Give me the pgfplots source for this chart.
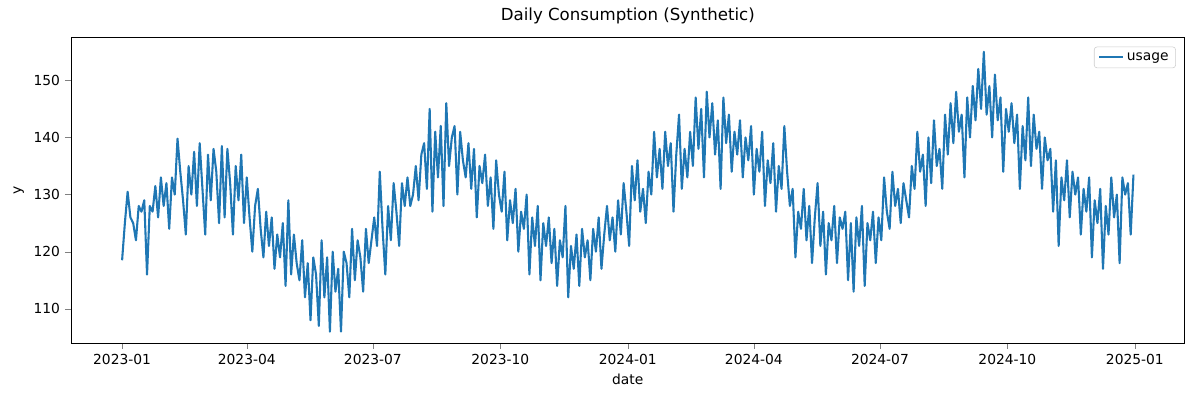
\documentclass[border=0pt]{standalone}
\usepackage{pgfplots}
\pgfplotsset{compat=1.18}
\usepackage{fontspec}
\setmainfont{DejaVu Sans}
\begin{document}
\begin{tikzpicture}
\begin{axis}[
  scale only axis, width=802bp, height=220bp,
  xmin=-37, xmax=767, ymin=104, ymax=157.5,
  xtick={0,90,181,273,365,456,547,639,731},
  xticklabels={2023-01,2023-04,2023-07,2023-10,2024-01,2024-04,2024-07,2024-10,2025-01},
  ytick={110,120,130,140,150},
  tick label style={font=\fontsize{10}{12}\selectfont},
  /pgf/number format/assume math mode=true,
  xlabel={date}, ylabel={y},
  label style={font=\fontsize{10}{12}\selectfont},
  title={Daily Consumption (Synthetic)},
  title style={font=\fontsize{12}{14}\selectfont},
  legend style={at={(0.992,0.97)},anchor=north east,font=\fontsize{10}{12}\selectfont,draw=black!20,rounded corners=2pt},
  legend cell align=left,
  tick align=outside, tick pos=left,
]
\addplot[color={rgb,255:red,31;green,119;blue,180}, line width=1.5bp, line join=round] coordinates {
(0,118.5)(2,125)(4,130.5)(6,126)(8,125)(10,122)(12,128)(14,127)(16,129)(18,116)(20,128)(22,127)(24,131.5)(26,126)(28,133)(30,128)(32,132)(34,124)(36,133)(38,130)(40,139.8)(42,134)(44,129)(46,123)(48,135)(50,130)(52,137.5)(54,128)(56,139)(58,131)(60,123)(62,137)(64,129)(66,138)(68,134)(70,125)(72,138.5)(74,126)(76,138)(78,132)(80,123)(82,135)(84,129)(86,137)(88,125)(90,133)(92,126)(94,120)(96,128)(98,131)(100,124)(102,119)(104,127)(106,121)(108,126)(110,117)(112,123)(114,119)(116,125)(118,114)(120,129)(122,116)(124,123)(126,118)(128,115)(130,122)(132,112)(134,118)(136,108)(138,119)(140,116)(142,107)(144,122)(146,112)(148,119)(150,106)(152,120)(154,113)(156,117)(158,106)(160,120)(162,118)(164,112)(166,124)(168,115)(170,122)(172,119)(174,113)(176,124)(178,118)(180,122)(182,126)(184,121)(186,134)(188,124)(190,116)(192,128)(194,122)(196,132)(198,127)(200,121)(202,132)(204,128)(206,133)(208,128)(210,130)(212,135)(214,129)(216,137)(218,139)(220,131)(222,145)(224,127)(226,141)(228,133)(230,142)(232,128)(234,146)(236,135)(238,140)(240,142)(242,130)(244,141)(246,136)(248,133)(250,139)(252,131)(254,138)(256,126)(258,135)(260,132)(262,137)(264,128)(266,133)(268,124)(270,136)(272,130)(274,127)(276,134)(278,122)(280,129)(282,125)(284,131)(286,120)(288,127)(290,124)(292,130)(294,116)(296,126)(298,121)(300,128)(302,115)(304,125)(306,121)(308,126)(310,118)(312,124)(314,114)(316,122)(318,119)(320,128)(322,112)(324,121)(326,117)(328,123)(330,114)(332,124)(334,119)(336,122)(338,115)(340,124)(342,120)(344,126)(346,117)(348,123)(350,128)(352,122)(354,126)(356,120)(358,129)(360,123)(362,132)(364,127)(366,121)(368,135)(370,129)(372,136)(374,127)(376,131)(378,125)(380,134)(382,130)(384,141)(386,133)(388,138)(390,131)(392,141)(394,135)(396,139)(398,127)(400,137)(402,144)(404,131)(406,138)(408,133)(410,141)(412,135)(414,147)(416,138)(418,145)(420,133)(422,148)(424,140)(426,146)(428,137)(430,143)(432,131)(434,147)(436,139)(438,144)(440,134)(442,141)(444,137)(446,143)(448,133)(450,140)(452,136)(454,142)(456,130)(458,138)(460,134)(462,141)(464,128)(466,136)(468,132)(470,139)(472,127)(474,135)(476,131)(478,142)(480,134)(482,128)(484,131)(486,119)(488,127)(490,124)(492,131)(494,122)(496,128)(498,118)(500,126)(502,132)(504,121)(506,127)(508,116)(510,125)(512,122)(514,128)(516,118)(518,126)(520,124)(522,127)(524,115)(526,125)(528,113)(530,126)(532,121)(534,128)(536,114)(538,125)(540,122)(542,127)(544,118)(546,126)(548,122)(550,133)(552,127)(554,124)(556,134)(558,128)(560,131)(562,125)(564,132)(566,129)(568,126)(570,135)(572,131)(574,141)(576,134)(578,137)(580,128)(582,140)(584,132)(586,143)(588,135)(590,138)(592,131)(594,144)(596,137)(598,146)(600,139)(602,148)(604,141)(606,144)(608,133)(610,147)(612,140)(614,149)(616,143)(618,152)(620,145)(622,155)(624,144)(626,149)(628,140)(630,151)(632,143)(634,147)(636,134)(638,145)(640,141)(642,146)(644,139)(646,144)(648,131)(650,142)(652,136)(654,147)(656,135)(658,144)(660,138)(662,141)(664,131)(666,140)(668,136)(670,138)(672,127)(674,136)(676,121)(678,133)(680,129)(682,136)(684,126)(686,134)(688,130)(690,133)(692,123)(694,131)(696,127)(698,133)(700,119)(702,129)(704,125)(706,131)(708,117)(710,128)(712,123)(714,133)(716,126)(718,130)(720,118)(722,133)(724,130)(726,132)(728,123)(730,133.5)
};
\addlegendentry{usage}
\end{axis}
\path (current axis.south west) ++(-51bp,-42bp) coordinate (bl);
\path (current axis.north east) ++(11bp,27bp) coordinate (tr);
\path (bl) rectangle (tr);
\end{tikzpicture}
\end{document}
